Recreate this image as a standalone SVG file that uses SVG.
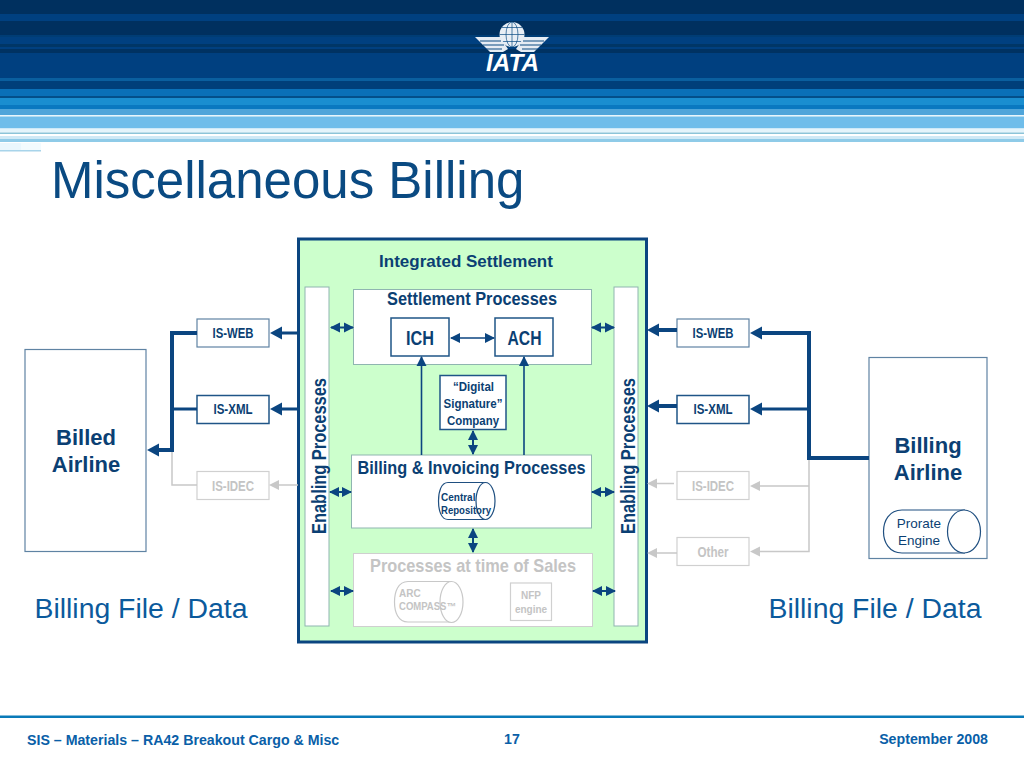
<svg xmlns="http://www.w3.org/2000/svg" width="1024" height="768" viewBox="0 0 1024 768">
<style>
text{font-family:"Liberation Sans",Arial,sans-serif;text-anchor:middle;fill:#0b3f73}
.b{font-weight:bold}
.box{fill:#fff;stroke:#5f83a3;stroke-width:1.2}
.dbox{fill:#fff;stroke:#1f5587;stroke-width:1.5}
.gbox{fill:#fff;stroke:#d0d0d0;stroke-width:1.2}
.bar{fill:#fff;stroke:#8fb5b0;stroke-width:1}
.thick{fill:none;stroke:#0b4580;stroke-width:4}
.med{fill:none;stroke:#0b4580;stroke-width:3}
.thin{fill:none;stroke:#0b4580;stroke-width:1.6}
.dbl{fill:none;stroke:#0b4580;stroke-width:2;marker-start:url(#ds);marker-end:url(#de)}
.dbl2{fill:none;stroke:#0b4580;stroke-width:1.4;marker-start:url(#ds);marker-end:url(#de)}
.grey{fill:none;stroke:#c8c8c8;stroke-width:1.5}
.gt{fill:#c4c4c4}
.cyl{fill:#fff;stroke:#1f4f80;stroke-width:1.2}
.gcyl{fill:#fff;stroke:#c8c8c8;stroke-width:1.2}
.foot{font-size:14.200px;font-weight:bold;fill:#0a5fa8}
.data{font-size:28.400px;fill:#0b5a9c}
</style>
<defs>
<marker id="de" markerUnits="userSpaceOnUse" markerWidth="10" markerHeight="12" refX="9" refY="6" orient="auto"><path d="M0 1L10 6L0 11z" fill="#0b4580"/></marker>
<marker id="ds" markerUnits="userSpaceOnUse" markerWidth="10" markerHeight="12" refX="1" refY="6" orient="auto"><path d="M10 1L0 6L10 11z" fill="#0b4580"/></marker>
</defs>

<g id="header">
<rect width="1024" height="78" fill="#004080"/>
<rect y="0" width="1024" height="14" fill="#00305f"/>
<rect y="14" width="1024" height="7" fill="#004080"/>
<rect y="21" width="1024" height="14" fill="#00305f"/>
<rect y="35" width="1024" height="2" fill="#003d75"/>
<rect y="44" width="1024" height="3" fill="#003666"/>
<rect y="49" width="1024" height="4" fill="#003262"/>
<rect y="78" width="1024" height="3" fill="#0a5f9f"/>
<rect y="81" width="1024" height="8" fill="#003f7a"/>
<rect y="89" width="1024" height="7" fill="#0a70b8"/>
<rect y="96" width="1024" height="2" fill="#034f8a"/>
<rect y="98" width="1024" height="7" fill="#1a8ed0"/>
<rect y="105" width="1024" height="4" fill="#0a78c0"/>
<rect y="109" width="1024" height="6" fill="#4fa5da"/>
<rect y="115" width="1024" height="1.500" fill="#e8f6fc"/>
<rect y="116.500" width="1024" height="12" fill="#6fbdea"/>
<rect y="128.500" width="1024" height="4" fill="#e4f4fb"/>
<rect y="132.500" width="1024" height="1.500" fill="#8cc4d8"/>
<rect y="134" width="1024" height="2" fill="#fff"/>
<rect y="136" width="1024" height="3" fill="#cfe9f6"/>
<rect y="139" width="1024" height="3" fill="#8fcbe8"/>
<rect y="143" width="21" height="8" fill="#eaf7fd"/>
<rect y="150" width="41" height="1.500" fill="#a8d4ea"/>
<rect x="21" y="143" width="20" height="7" fill="#f3fbfe"/>
</g>

<g id="logo">
<ellipse cx="512" cy="34.500" rx="12.500" ry="12.500" fill="#e8eef5"/>
<path d="M512 22V47M499.500 34.500H524.500M502 27.500H522M502 41.500H522" stroke="#0a4a82" stroke-width=".7" fill="none"/>
<ellipse cx="512" cy="34.500" rx="6" ry="12.500" fill="none" stroke="#0a4a82" stroke-width=".7"/>
<path d="M475 37H500L508 49L503 52H490z" fill="#e6ecf3"/>
<path d="M549 37H524L516 49L521 52H534z" fill="#e6ecf3"/>
<path d="M480 41H501M483 45H504M486 49H502M544 41H523M541 45H520M538 49H522" stroke="#0a4a82" stroke-width="1.200"/>
<text x="512.500" y="71" font-size="24.600" class="b" font-style="italic" style="fill:#fff" textLength="53" lengthAdjust="spacingAndGlyphs">IATA</text>
</g>

<text id="title" x="51" y="198" font-size="51" style="text-anchor:start;fill:#0a4a82">Miscellaneous Billing</text>

<g id="integrated-settlement"><rect x="298.500" y="239" width="348" height="403" fill="#ccffcc" stroke="#0b4580" stroke-width="3"/>
<text x="466" y="267" font-size="17" class="b">Integrated Settlement</text></g>

<g id="enabling-left"><rect class="bar" x="305" y="287" width="24" height="339"/>
<text transform="translate(326 456) rotate(-90)" font-size="20" class="b" textLength="156" lengthAdjust="spacingAndGlyphs">Enabling Processes</text></g>
<g id="enabling-right"><rect class="bar" x="614" y="287" width="24" height="339"/>
<text transform="translate(635 456) rotate(-90)" font-size="20" class="b" textLength="156" lengthAdjust="spacingAndGlyphs">Enabling Processes</text></g>

<g id="settlement-processes"><rect class="bar" x="353.500" y="289.500" width="238" height="75"/>
<text x="472" y="305" font-size="19" class="b" textLength="170" lengthAdjust="spacingAndGlyphs">Settlement Processes</text></g>
<g id="ich"><rect class="dbox" x="391" y="318" width="58" height="38"/><text x="420" y="345" font-size="21" class="b" textLength="28" lengthAdjust="spacingAndGlyphs">ICH</text></g>
<g id="ach"><rect class="dbox" x="495" y="318" width="58" height="38"/><text x="524.500" y="345" font-size="21" class="b" textLength="34" lengthAdjust="spacingAndGlyphs">ACH</text></g>
<g id="digital-signature"><rect class="dbox" x="440" y="375.500" width="66" height="54"/>
<text font-size="13" class="b"><tspan x="473.500" y="391" textLength="41" lengthAdjust="spacingAndGlyphs">“Digital</tspan><tspan x="473" y="408" textLength="59" lengthAdjust="spacingAndGlyphs">Signature”</tspan><tspan x="473" y="425" textLength="52" lengthAdjust="spacingAndGlyphs">Company</tspan></text></g>

<g id="billing-invoicing"><rect class="bar" x="351.500" y="455" width="240" height="73"/>
<text x="471.500" y="473.500" font-size="19" class="b" textLength="228" lengthAdjust="spacingAndGlyphs">Billing &amp; Invoicing Processes</text></g>
<g id="central-repository"><path class="cyl" d="M485 482.500H448C441 482.500 438.500 492 438.500 501S441 519.500 448 519.500H485"/><ellipse class="cyl" cx="485.500" cy="501" rx="9.500" ry="18.500"/>
<text font-size="10" class="b" style="text-anchor:start"><tspan x="441" y="501">Central</tspan><tspan x="441" y="514" textLength="50" lengthAdjust="spacingAndGlyphs">Repository</tspan></text></g>

<g id="sales"><rect x="353.500" y="553.500" width="239" height="73" fill="#fff" stroke="#cfcfcf"/>
<text x="473" y="571.500" font-size="19" class="b gt" textLength="206" lengthAdjust="spacingAndGlyphs">Processes at time of Sales</text></g>
<g id="arc-compass"><path class="gcyl" d="M452 581.500H408C398 581.500 394.500 592 394.500 602S398 622 408 622H452"/><ellipse class="gcyl" cx="451.500" cy="602" rx="11.500" ry="20.500"/>
<text font-size="10" class="b gt" style="text-anchor:start"><tspan x="399" y="597">ARC</tspan><tspan x="399" y="610" textLength="57" lengthAdjust="spacingAndGlyphs">COMPASS™</tspan></text></g>
<g id="nfp"><rect class="gbox" x="510.500" y="583" width="41" height="37.500"/><text font-size="10" class="b gt"><tspan x="531" y="599">NFP</tspan><tspan x="531" y="613">engine</tspan></text></g>

<g id="is-web-left"><rect class="box" x="197" y="319" width="72" height="28"/><text x="233" y="337.500" font-size="14" class="b" textLength="41" lengthAdjust="spacingAndGlyphs">IS-WEB</text></g>
<g id="is-xml-left"><rect class="dbox" x="197" y="395.500" width="72" height="28"/><text x="233" y="414" font-size="14" class="b" textLength="39" lengthAdjust="spacingAndGlyphs">IS-XML</text></g>
<g id="is-idec-left"><rect class="gbox" x="197" y="471.500" width="72" height="28"/><text x="233" y="490.500" font-size="14" class="b gt" textLength="42" lengthAdjust="spacingAndGlyphs">IS-IDEC</text></g>
<g id="is-web-right"><rect class="box" x="677" y="319" width="72" height="28"/><text x="713" y="337.500" font-size="14" class="b" textLength="41" lengthAdjust="spacingAndGlyphs">IS-WEB</text></g>
<g id="is-xml-right"><rect class="dbox" x="677" y="395.500" width="72" height="28"/><text x="713" y="414" font-size="14" class="b" textLength="39" lengthAdjust="spacingAndGlyphs">IS-XML</text></g>
<g id="is-idec-right"><rect class="gbox" x="677" y="471.500" width="72" height="28"/><text x="713" y="490.500" font-size="14" class="b gt" textLength="42" lengthAdjust="spacingAndGlyphs">IS-IDEC</text></g>
<g id="other"><rect class="gbox" x="677" y="537.500" width="72" height="28"/><text x="713" y="556.500" font-size="14" class="b gt" textLength="31" lengthAdjust="spacingAndGlyphs">Other</text></g>

<g id="billed-airline"><rect class="box" x="25" y="349.500" width="121" height="202"/>
<text font-size="22" class="b"><tspan x="86" y="445">Billed</tspan><tspan x="86" y="472">Airline</tspan></text></g>
<g id="billing-airline"><rect class="box" x="869" y="357.500" width="118" height="201"/>
<text font-size="22" class="b"><tspan x="928" y="453">Billing</tspan><tspan x="928" y="480">Airline</tspan></text></g>
<g id="prorate-engine"><path class="cyl" d="M965 510H902C889 510 883.500 521 883.500 531.500S889 553 902 553H965"/><ellipse class="cyl" cx="964" cy="531.500" rx="16.500" ry="21.500"/>
<text font-size="13.500"><tspan x="919" y="528">Prorate</tspan><tspan x="919" y="545">Engine</tspan></text></g>

<text class="data" x="141" y="618">Billing File / Data</text>
<text class="data" x="875" y="618">Billing File / Data</text>

<g id="connectors">
<path class="grey" d="M172 450V485H197"/>
<path class="grey" d="M298 485H278"/><path d="M269 485L279 480V490z" fill="#c8c8c8"/>
<path class="grey" d="M809 458V551.500H758M809 486H758"/><path d="M750 486L760 481V491zM750 551.500L760 546.500V556.500z" fill="#c8c8c8"/>
<path class="grey" d="M674 483.500H656M677 553H656"/><path d="M647 483.500L657 478.500V488.500zM647 553L657 548V558z" fill="#c8c8c8"/>
<path class="thick" d="M197 333H172V450H158"/><path class="med" d="M172 409H197"/>
<path d="M147 450L159 443.500V456.500z" fill="#0b4580"/>
<path class="med" d="M298 333H280M298 409H280"/><path d="M270 333L282 326.500V339.500zM270 409L282 402.500V415.500z" fill="#0b4580"/>
<path class="thick" d="M869 458H809V333H760"/><path class="med" d="M809 409H760"/>
<path d="M750 333L762 326.500V339.500zM750 409L762 402.500V415.500z" fill="#0b4580"/>
<path class="thick" d="M677 330H658M677 406H658"/><path d="M647 330L659 323.500V336.500zM647 406L659 399.500V412.500z" fill="#0b4580"/>
<path class="dbl" d="M331 327.500H353"/><path class="dbl" d="M592 327.500H614"/>
<path class="dbl" d="M330 492H351"/><path class="dbl" d="M592 492H614"/>
<path class="dbl" d="M331 591H353"/><path class="dbl" d="M593 591H615"/>
<path class="dbl2" d="M451 338H494"/>
<path class="dbl" d="M473 431V454"/><path class="dbl" d="M473 529V552"/>
<path class="thin" d="M421.500 455V357" style="marker-end:url(#de)"/><path class="thin" d="M524 455V357" style="marker-end:url(#de)"/>
</g>

<g id="footer"><rect y="715.500" width="1024" height="2.500" fill="#0a7ab8"/>
<text class="foot" x="27" y="744.500" style="text-anchor:start">SIS – Materials – RA42 Breakout Cargo &amp; Misc</text>
<text class="foot" x="512" y="744">17</text>
<text class="foot" x="988" y="744" style="text-anchor:end">September 2008</text></g>
</svg>
